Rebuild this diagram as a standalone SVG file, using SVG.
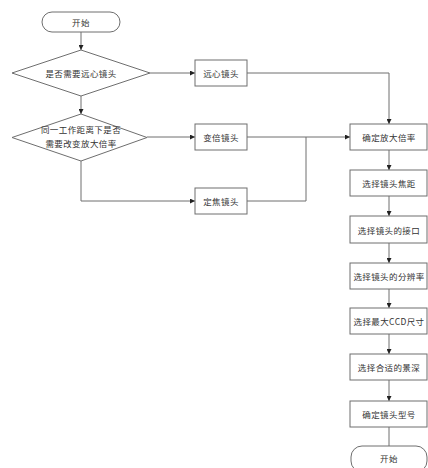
<svg xmlns="http://www.w3.org/2000/svg" width="428" height="468" viewBox="0 0 428 468">
<style>
.s{fill:#fff;stroke:#6e6e6e;stroke-width:1}
.t{font-family:"Noto Sans CJK SC","Liberation Sans",sans-serif;font-size:8.5px;fill:#333;text-anchor:middle;dominant-baseline:central;letter-spacing:0.4px}
.c{fill:none;stroke:#6e6e6e;stroke-width:1;marker-end:url(#a)}
.n{fill:none;stroke:#6e6e6e;stroke-width:1}
</style>
<defs>
<marker id="a" viewBox="0 0 6 6" refX="6" refY="3" markerWidth="5" markerHeight="5" orient="auto" markerUnits="userSpaceOnUse"><path d="M0,0L6,3L0,6z" fill="#222"/></marker>
</defs>
<rect width="428" height="468" fill="#fff"/>
<g id="connectors">
<path class="c" d="M81,32V50"/>
<path class="c" d="M150,73H195"/>
<path class="c" d="M81,96V114"/>
<path class="c" d="M147,137H195"/>
<path class="c" d="M81,161V201H195"/>
<path class="c" d="M247,73H389V124"/>
<path class="c" d="M247,137H350"/>
<path class="n" d="M247,201H306V137"/>
<path class="c" d="M389,150V170"/>
<path class="c" d="M389,196V216"/>
<path class="c" d="M389,243V263"/>
<path class="c" d="M389,289V308"/>
<path class="c" d="M389,334V354"/>
<path class="c" d="M389,380V401"/>
<path class="n" d="M389,427V446"/>
</g>
<g id="start"><rect class="s" x="42" y="12" width="78" height="20" rx="10"/><text class="t" x="81" y="22">开始</text></g>
<g id="d1"><path class="s" d="M81,50L150,73L81,96L12,73Z"/><text class="t" x="81" y="73">是否需要远心镜头</text></g>
<g id="d2"><path class="s" d="M81,114L147,137.5L81,161L12,137.5Z"/><text class="t" x="81" y="129">同一工作距离下是否</text><text class="t" x="81" y="143">需要改变放大倍率</text></g>
<g id="b1"><rect class="s" x="195" y="60" width="52" height="26"/><text class="t" x="221" y="73">远心镜头</text></g>
<g id="b2"><rect class="s" x="195" y="124" width="52" height="26"/><text class="t" x="221" y="137">变倍镜头</text></g>
<g id="b3"><rect class="s" x="195" y="188" width="52" height="26"/><text class="t" x="221" y="201">定焦镜头</text></g>
<g id="r1"><rect class="s" x="350" y="124" width="77" height="26"/><text class="t" x="389" y="137">确定放大倍率</text></g>
<g id="r2"><rect class="s" x="350" y="170" width="77" height="26"/><text class="t" x="389" y="183">选择镜头焦距</text></g>
<g id="r3"><rect class="s" x="350" y="216" width="77" height="27"/><text class="t" x="389" y="229.5">选择镜头的接口</text></g>
<g id="r4"><rect class="s" x="350" y="263" width="77" height="26"/><text class="t" x="389" y="276">选择镜头的分辨率</text></g>
<g id="r5"><rect class="s" x="350" y="308" width="77" height="26"/><text class="t" x="389" y="321">选择最大CCD尺寸</text></g>
<g id="r6"><rect class="s" x="350" y="354" width="77" height="26"/><text class="t" x="389" y="367">选择合适的景深</text></g>
<g id="r7"><rect class="s" x="350" y="401" width="77" height="26"/><text class="t" x="389" y="414">确定镜头型号</text></g>
<g id="end"><rect class="s" x="351" y="446" width="76" height="26" rx="11"/><text class="t" x="389" y="458">开始</text></g>
</svg>
